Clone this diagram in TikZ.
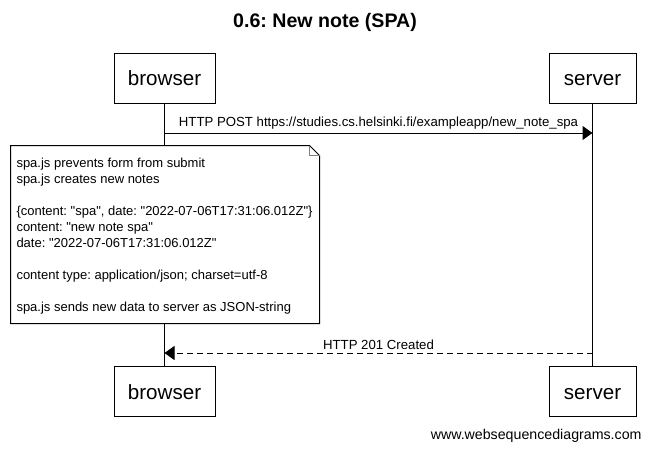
\documentclass[tikz,border=0pt]{standalone}
\usepackage{fontspec}
\setmainfont{Liberation Sans}[Ligatures=TeXOff]
\usetikzlibrary{arrows.meta}
\begin{document}
\frenchspacing
\begin{tikzpicture}[x=1pt,y=-1pt,line width=1pt,
  actor/.style={draw,fill=white,inner sep=0pt,minimum height=50pt,text height=17pt,text depth=2pt,font=\fontsize{20.6}{24}\selectfont},
  msg/.style={font=\fontsize{13.2}{15}\selectfont,inner sep=0pt},
  head/.style={-{Triangle[length=10pt,width=14pt]}},
  notebox/.style={fill=white,inner sep=0pt,minimum width=308pt,minimum height=177pt},
  notetext/.style={inner sep=0pt,align=left,anchor=west,font=\fontsize{13}{16}\selectfont}]
\useasboundingbox (0,0) rectangle (650,450);
\node[font=\bfseries\fontsize{19.6}{22}\selectfont] (title) at (325,22.5) {0.6: New note (SPA)};
\node[actor,minimum width=101pt] (bt) at (164.5,78) {browser};
\node[actor,minimum width=87pt] (st) at (592.5,78) {server};
\node[actor,minimum width=101pt] (bb) at (164.5,391.5) {browser};
\node[actor,minimum width=87pt] (sb) at (592.5,391.5) {server};
\draw (bt.south) -- (bb.north);
\draw (st.south) -- (sb.north);
\coordinate (b1) at (164.5,133);
\coordinate (s1) at (592.5,133);
\coordinate (b2) at (164.5,353);
\coordinate (s2) at (592.5,353);
\draw[head] (b1) -- (s1) node[msg,midway,above=3pt] (m1) {HTTP POST https://studies.cs.helsinki.fi/exampleapp/new\_note\_spa};
\node[notebox] (note) at (165,234.5) {};
\draw (note.north west) -- ([xshift=-10pt]note.north east) -- ([yshift=-10pt]note.north east) -- (note.south east) -- (note.south west) -- cycle;
\draw[gray] ([xshift=-10pt]note.north east) -- ([xshift=-10pt,yshift=-10pt]note.north east) -- ([yshift=-10pt]note.north east);
\node[notetext] (nt) at (16,236) {spa.js prevents form from submit\\
spa.js creates new notes\\
\mbox{}\\
\{content: "spa", date: "2022-07-06T17:31:06.012Z"\}\\
content: "new note spa"\\
date: "2022-07-06T17:31:06.012Z"\\
\mbox{}\\
content type: application/json; charset=utf-8\\
\mbox{}\\
spa.js sends new data to server as JSON-string};
\draw[head,dash pattern=on 6pt off 4pt] (s2) -- (b2) node[msg,midway,above=3pt] (m2) {HTTP 201 Created};
\node[font=\fontsize{14.2}{16}\selectfont,anchor=east,inner sep=0pt] (wm) at (642,436) {www.websequencediagrams.com};
\end{tikzpicture}
\end{document}
